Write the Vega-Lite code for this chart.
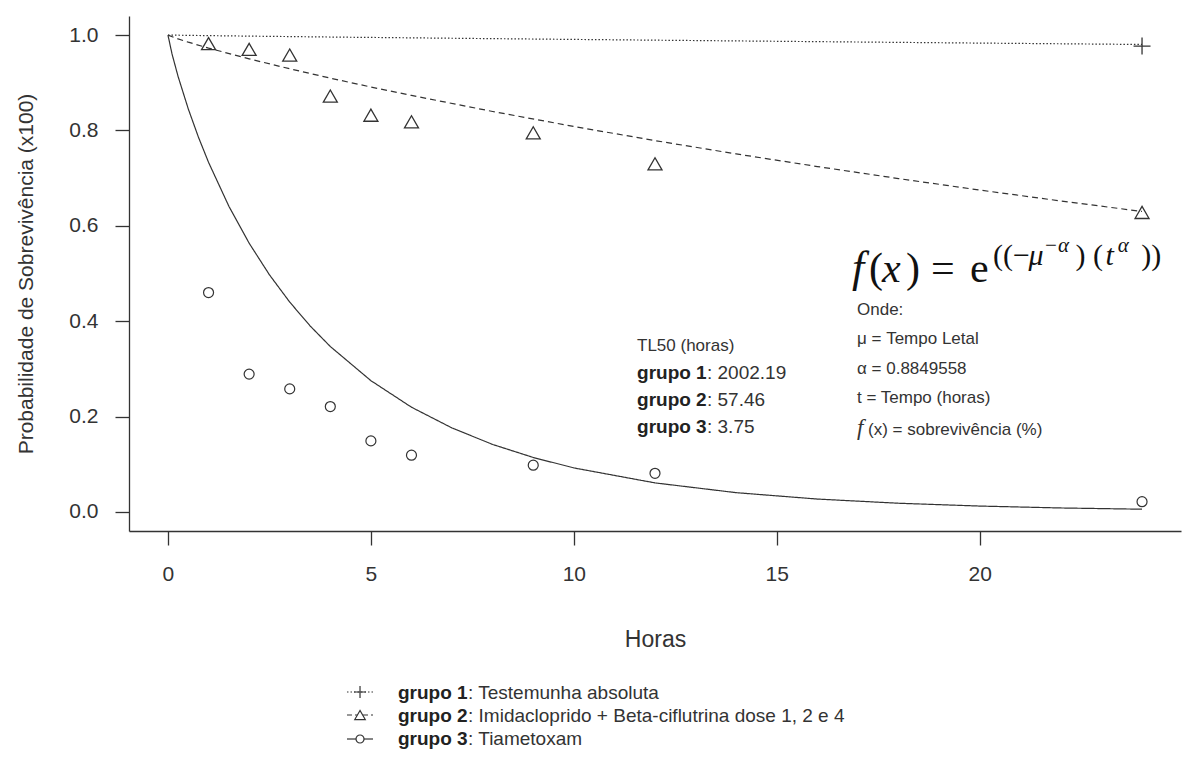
{
  "$schema": "https://vega.github.io/schema/vega-lite/v6.json",
  "width": 1052,
  "height": 515,
  "autosize": {"type": "none"},
  "padding": {"left": 129, "top": 16, "right": 3, "bottom": 233},
  "background": "white",
  "config": {
    "view": {"stroke": null},
    "font": "Liberation Sans",
    "axis": {
      "domainColor": "#333", "domainWidth": 1.3, "tickColor": "#333", "tickWidth": 1.3, "tickSize": 14,
      "labelFont": "Liberation Sans", "labelFontSize": 21, "labelColor": "#333",
      "titleFont": "Liberation Sans", "titleFontWeight": "normal", "titleColor": "#333", "grid": false
    },
    "axisX": {"labelPadding": 18, "titlePadding": 44, "titleFontSize": 23, "labelAngle": 0},
    "axisY": {"labelPadding": 17, "titlePadding": 32, "titleFontSize": 21}
  },
  "datasets": {
    "curves": [
      {"hora": 0, "prob": 1, "grupo": "grupo 1"},
      {"hora": 1, "prob": 0.9988, "grupo": "grupo 1"},
      {"hora": 2, "prob": 0.9978, "grupo": "grupo 1"},
      {"hora": 4, "prob": 0.9959, "grupo": "grupo 1"},
      {"hora": 8, "prob": 0.9925, "grupo": "grupo 1"},
      {"hora": 12, "prob": 0.9893, "grupo": "grupo 1"},
      {"hora": 16, "prob": 0.9862, "grupo": "grupo 1"},
      {"hora": 20, "prob": 0.9832, "grupo": "grupo 1"},
      {"hora": 24, "prob": 0.9803, "grupo": "grupo 1"},
      {"hora": 0, "prob": 1, "grupo": "grupo 2"},
      {"hora": 0.25, "prob": 0.9919, "grupo": "grupo 2"},
      {"hora": 0.5, "prob": 0.9851, "grupo": "grupo 2"},
      {"hora": 1, "prob": 0.9727, "grupo": "grupo 2"},
      {"hora": 2, "prob": 0.9501, "grupo": "grupo 2"},
      {"hora": 3, "prob": 0.9293, "grupo": "grupo 2"},
      {"hora": 4, "prob": 0.9097, "grupo": "grupo 2"},
      {"hora": 5, "prob": 0.8911, "grupo": "grupo 2"},
      {"hora": 6, "prob": 0.8734, "grupo": "grupo 2"},
      {"hora": 8, "prob": 0.8398, "grupo": "grupo 2"},
      {"hora": 10, "prob": 0.8083, "grupo": "grupo 2"},
      {"hora": 12, "prob": 0.7787, "grupo": "grupo 2"},
      {"hora": 14, "prob": 0.7508, "grupo": "grupo 2"},
      {"hora": 16, "prob": 0.7243, "grupo": "grupo 2"},
      {"hora": 18, "prob": 0.6991, "grupo": "grupo 2"},
      {"hora": 20, "prob": 0.675, "grupo": "grupo 2"},
      {"hora": 22, "prob": 0.6521, "grupo": "grupo 2"},
      {"hora": 24, "prob": 0.6301, "grupo": "grupo 2"},
      {"hora": 0, "prob": 1, "grupo": "grupo 3"},
      {"hora": 0.1, "prob": 0.9604, "grupo": "grupo 3"},
      {"hora": 0.25, "prob": 0.913, "grupo": "grupo 3"},
      {"hora": 0.5, "prob": 0.8453, "grupo": "grupo 3"},
      {"hora": 0.75, "prob": 0.7861, "grupo": "grupo 3"},
      {"hora": 1, "prob": 0.7331, "grupo": "grupo 3"},
      {"hora": 1.5, "prob": 0.6412, "grupo": "grupo 3"},
      {"hora": 2, "prob": 0.5636, "grupo": "grupo 3"},
      {"hora": 2.5, "prob": 0.4973, "grupo": "grupo 3"},
      {"hora": 3, "prob": 0.4401, "grupo": "grupo 3"},
      {"hora": 3.5, "prob": 0.3903, "grupo": "grupo 3"},
      {"hora": 4, "prob": 0.3469, "grupo": "grupo 3"},
      {"hora": 5, "prob": 0.2753, "grupo": "grupo 3"},
      {"hora": 6, "prob": 0.2196, "grupo": "grupo 3"},
      {"hora": 7, "prob": 0.176, "grupo": "grupo 3"},
      {"hora": 8, "prob": 0.1415, "grupo": "grupo 3"},
      {"hora": 9, "prob": 0.1142, "grupo": "grupo 3"},
      {"hora": 10, "prob": 0.0923, "grupo": "grupo 3"},
      {"hora": 12, "prob": 0.0609, "grupo": "grupo 3"},
      {"hora": 14, "prob": 0.0404, "grupo": "grupo 3"},
      {"hora": 16, "prob": 0.027, "grupo": "grupo 3"},
      {"hora": 18, "prob": 0.0182, "grupo": "grupo 3"},
      {"hora": 20, "prob": 0.0123, "grupo": "grupo 3"},
      {"hora": 22, "prob": 0.0083, "grupo": "grupo 3"},
      {"hora": 24, "prob": 0.0057, "grupo": "grupo 3"}
    ],
    "obs": [
      {"hora": 24, "prob": 0.977, "grupo": "grupo 1"},
      {"hora": 1, "prob": 0.982, "grupo": "grupo 2"},
      {"hora": 2, "prob": 0.97, "grupo": "grupo 2"},
      {"hora": 3, "prob": 0.958, "grupo": "grupo 2"},
      {"hora": 4, "prob": 0.872, "grupo": "grupo 2"},
      {"hora": 5, "prob": 0.832, "grupo": "grupo 2"},
      {"hora": 6, "prob": 0.818, "grupo": "grupo 2"},
      {"hora": 9, "prob": 0.795, "grupo": "grupo 2"},
      {"hora": 12, "prob": 0.73, "grupo": "grupo 2"},
      {"hora": 24, "prob": 0.628, "grupo": "grupo 2"},
      {"hora": 1, "prob": 0.46, "grupo": "grupo 3"},
      {"hora": 2, "prob": 0.289, "grupo": "grupo 3"},
      {"hora": 3, "prob": 0.258, "grupo": "grupo 3"},
      {"hora": 4, "prob": 0.221, "grupo": "grupo 3"},
      {"hora": 5, "prob": 0.149, "grupo": "grupo 3"},
      {"hora": 6, "prob": 0.119, "grupo": "grupo 3"},
      {"hora": 9, "prob": 0.098, "grupo": "grupo 3"},
      {"hora": 12, "prob": 0.081, "grupo": "grupo 3"},
      {"hora": 24, "prob": 0.0215, "grupo": "grupo 3"}
    ]
  },
  "layer": [
    {
      "data": {"name": "curves"},
      "mark": {"type": "line", "stroke": "#333", "strokeWidth": 1.2},
      "encoding": {
        "x": {"field": "hora", "type": "quantitative", "scale": {"domain": [-0.96, 24.96], "nice": false, "zero": false},
              "axis": {"values": [0, 5, 10, 15, 20], "format": "d", "title": "Horas"}},
        "y": {"field": "prob", "type": "quantitative", "scale": {"domain": [-0.04, 1.04], "nice": false, "zero": false},
              "axis": {"values": [0, 0.2, 0.4, 0.6, 0.8, 1], "format": ".1f", "title": "Probabilidade de Sobrevivência (x100)"}},
        "detail": {"field": "grupo", "type": "nominal"},
        "strokeDash": {"field": "grupo", "type": "nominal", "scale": {"domain": ["grupo 1", "grupo 2", "grupo 3"], "range": [[1.5, 2], [6, 4], [1, 0]]}, "legend": null}
      }
    },
    {
      "data": {"name": "obs"},
      "transform": [{"filter": "datum.grupo === 'grupo 1'"}],
      "mark": {"type": "point", "shape": "M-1,0H1M0,-1V1", "size": 289, "filled": false, "stroke": "#333", "strokeWidth": 1.3, "opacity": 1},
      "encoding": {"x": {"field": "hora", "type": "quantitative"}, "y": {"field": "prob", "type": "quantitative"}}
    },
    {
      "data": {"name": "obs"},
      "transform": [{"filter": "datum.grupo === 'grupo 2'"}],
      "mark": {"type": "point", "shape": "triangle-up", "size": 196, "filled": false, "stroke": "#333", "strokeWidth": 1.3, "opacity": 1},
      "encoding": {"x": {"field": "hora", "type": "quantitative"}, "y": {"field": "prob", "type": "quantitative"}}
    },
    {
      "data": {"name": "obs"},
      "transform": [{"filter": "datum.grupo === 'grupo 3'"}],
      "mark": {"type": "point", "shape": "circle", "size": 100, "filled": false, "stroke": "#333", "strokeWidth": 1.2, "opacity": 1},
      "encoding": {"x": {"field": "hora", "type": "quantitative"}, "y": {"field": "prob", "type": "quantitative"}}
    },

    {"data": {"values": [{}]}, "mark": {"type": "text", "text": "f", "font": "Liberation Serif", "fontStyle": "italic", "fontSize": 44, "align": "left", "baseline": "alphabetic", "color": "#111"}, "encoding": {"x": {"datum": 16.854}, "y": {"datum": 0.482}}},
    {"data": {"values": [{}]}, "mark": {"type": "text", "text": "(", "font": "Liberation Serif", "fontSize": 42, "align": "left", "baseline": "alphabetic", "color": "#111"}, "encoding": {"x": {"datum": 17.273}, "y": {"datum": 0.482}}},
    {"data": {"values": [{}]}, "mark": {"type": "text", "text": "x", "font": "Liberation Serif", "fontStyle": "italic", "fontSize": 42, "align": "left", "baseline": "alphabetic", "color": "#111"}, "encoding": {"x": {"datum": 17.593}, "y": {"datum": 0.482}}},
    {"data": {"values": [{}]}, "mark": {"type": "text", "text": ")", "font": "Liberation Serif", "fontSize": 42, "align": "left", "baseline": "alphabetic", "color": "#111"}, "encoding": {"x": {"datum": 18.185}, "y": {"datum": 0.482}}},
    {"data": {"values": [{}]}, "mark": {"type": "text", "text": "=", "font": "Liberation Serif", "fontSize": 42, "align": "left", "baseline": "alphabetic", "color": "#111"}, "encoding": {"x": {"datum": 18.801}, "y": {"datum": 0.482}}},
    {"data": {"values": [{}]}, "mark": {"type": "text", "text": "e", "font": "Liberation Serif", "fontSize": 42, "align": "left", "baseline": "alphabetic", "color": "#111"}, "encoding": {"x": {"datum": 19.76}, "y": {"datum": 0.482}}},
    {"data": {"values": [{}]}, "mark": {"type": "text", "text": "((−", "font": "Liberation Serif", "fontSize": 30, "align": "left", "baseline": "alphabetic", "color": "#111"}, "encoding": {"x": {"datum": 20.33}, "y": {"datum": 0.518}}},
    {"data": {"values": [{}]}, "mark": {"type": "text", "text": "μ", "font": "Liberation Serif", "fontStyle": "italic", "fontSize": 30, "align": "left", "baseline": "alphabetic", "color": "#111"}, "encoding": {"x": {"datum": 21.2}, "y": {"datum": 0.518}}},
    {"data": {"values": [{}]}, "mark": {"type": "text", "text": "−α", "font": "Liberation Serif", "fontStyle": "italic", "fontSize": 21, "align": "left", "baseline": "alphabetic", "color": "#111"}, "encoding": {"x": {"datum": 21.58}, "y": {"datum": 0.545}}},
    {"data": {"values": [{}]}, "mark": {"type": "text", "text": ") (", "font": "Liberation Serif", "fontSize": 30, "align": "left", "baseline": "alphabetic", "color": "#111"}, "encoding": {"x": {"datum": 22.36}, "y": {"datum": 0.518}}},
    {"data": {"values": [{}]}, "mark": {"type": "text", "text": "t", "font": "Liberation Serif", "fontStyle": "italic", "fontSize": 30, "align": "left", "baseline": "alphabetic", "color": "#111"}, "encoding": {"x": {"datum": 23.1}, "y": {"datum": 0.518}}},
    {"data": {"values": [{}]}, "mark": {"type": "text", "text": "α", "font": "Liberation Serif", "fontStyle": "italic", "fontSize": 21, "align": "left", "baseline": "alphabetic", "color": "#111"}, "encoding": {"x": {"datum": 23.4}, "y": {"datum": 0.545}}},
    {"data": {"values": [{}]}, "mark": {"type": "text", "text": "))", "font": "Liberation Serif", "fontSize": 30, "align": "left", "baseline": "alphabetic", "color": "#111"}, "encoding": {"x": {"datum": 23.98}, "y": {"datum": 0.518}}},

    {"data": {"values": [{}]}, "mark": {"type": "text", "text": "Onde:", "fontSize": 17, "align": "left", "baseline": "alphabetic", "color": "#333"}, "encoding": {"x": {"datum": 16.977}, "y": {"datum": 0.413}}},
    {"data": {"values": [{}]}, "mark": {"type": "text", "text": "μ = Tempo Letal", "fontSize": 17, "align": "left", "baseline": "alphabetic", "color": "#333"}, "encoding": {"x": {"datum": 16.977}, "y": {"datum": 0.352}}},
    {"data": {"values": [{}]}, "mark": {"type": "text", "text": "α = 0.8849558", "fontSize": 17, "align": "left", "baseline": "alphabetic", "color": "#333"}, "encoding": {"x": {"datum": 16.977}, "y": {"datum": 0.289}}},
    {"data": {"values": [{}]}, "mark": {"type": "text", "text": "t = Tempo (horas)", "fontSize": 17, "align": "left", "baseline": "alphabetic", "color": "#333"}, "encoding": {"x": {"datum": 16.977}, "y": {"datum": 0.228}}},
    {"data": {"values": [{}]}, "mark": {"type": "text", "text": "f", "font": "Liberation Serif", "fontStyle": "italic", "fontSize": 23, "align": "left", "baseline": "alphabetic", "color": "#333"}, "encoding": {"x": {"datum": 16.977}, "y": {"datum": 0.161}}},
    {"data": {"values": [{}]}, "mark": {"type": "text", "text": "(x) = sobrevivência (%)", "fontSize": 17, "align": "left", "baseline": "alphabetic", "color": "#333"}, "encoding": {"x": {"datum": 17.25}, "y": {"datum": 0.161}}},

    {"data": {"values": [{}]}, "mark": {"type": "text", "text": "TL50 (horas)", "fontSize": 17, "align": "left", "baseline": "alphabetic", "color": "#333"}, "encoding": {"x": {"datum": 11.557}, "y": {"datum": 0.3375}}},
    {"data": {"values": [{}]}, "mark": {"type": "text", "text": "grupo 1", "fontSize": 19, "fontWeight": "bold", "align": "left", "baseline": "alphabetic", "color": "#222"}, "encoding": {"x": {"datum": 11.557}, "y": {"datum": 0.2788}}},
    {"data": {"values": [{}]}, "mark": {"type": "text", "text": ": 2002.19", "fontSize": 19, "align": "left", "baseline": "alphabetic", "color": "#333"}, "encoding": {"x": {"datum": 13.281}, "y": {"datum": 0.2788}}},
    {"data": {"values": [{}]}, "mark": {"type": "text", "text": "grupo 2", "fontSize": 19, "fontWeight": "bold", "align": "left", "baseline": "alphabetic", "color": "#222"}, "encoding": {"x": {"datum": 11.557}, "y": {"datum": 0.2221}}},
    {"data": {"values": [{}]}, "mark": {"type": "text", "text": ": 57.46", "fontSize": 19, "align": "left", "baseline": "alphabetic", "color": "#333"}, "encoding": {"x": {"datum": 13.281}, "y": {"datum": 0.2221}}},
    {"data": {"values": [{}]}, "mark": {"type": "text", "text": "grupo 3", "fontSize": 19, "fontWeight": "bold", "align": "left", "baseline": "alphabetic", "color": "#222"}, "encoding": {"x": {"datum": 11.557}, "y": {"datum": 0.1655}}},
    {"data": {"values": [{}]}, "mark": {"type": "text", "text": ": 3.75", "fontSize": 19, "align": "left", "baseline": "alphabetic", "color": "#333"}, "encoding": {"x": {"datum": 13.281}, "y": {"datum": 0.1655}}},

    {"data": {"values": [{}]}, "mark": {"type": "rule", "stroke": "#333", "strokeWidth": 1.2, "strokeDash": [1.5, 2]}, "encoding": {"x": {"datum": 4.411}, "x2": {"datum": 5.052}, "y": {"datum": -0.3776}}},
    {"data": {"values": [{}]}, "mark": {"type": "rule", "stroke": "#333", "strokeWidth": 1.2, "strokeDash": [5, 3]}, "encoding": {"x": {"datum": 4.411}, "x2": {"datum": 5.052}, "y": {"datum": -0.4259}}},
    {"data": {"values": [{}]}, "mark": {"type": "rule", "stroke": "#333", "strokeWidth": 1.2}, "encoding": {"x": {"datum": 4.411}, "x2": {"datum": 5.052}, "y": {"datum": -0.4762}}},
    {"data": {"values": [{}]}, "mark": {"type": "point", "shape": "M-1,0H1M0,-1V1", "size": 144, "filled": false, "stroke": "#333", "strokeWidth": 1.2, "opacity": 1}, "encoding": {"x": {"datum": 4.732}, "y": {"datum": -0.3776}}},
    {"data": {"values": [{}]}, "mark": {"type": "point", "shape": "triangle-up", "size": 110, "filled": true, "fill": "white", "stroke": "#333", "strokeWidth": 1.2, "opacity": 1}, "encoding": {"x": {"datum": 4.732}, "y": {"datum": -0.4259}}},
    {"data": {"values": [{}]}, "mark": {"type": "point", "shape": "circle", "size": 64, "filled": true, "fill": "white", "stroke": "#333", "strokeWidth": 1.2, "opacity": 1}, "encoding": {"x": {"datum": 4.732}, "y": {"datum": -0.4762}}},
    {"data": {"values": [{}]}, "mark": {"type": "text", "text": "grupo 1", "fontSize": 19, "fontWeight": "bold", "align": "left", "baseline": "alphabetic", "color": "#222"}, "encoding": {"x": {"datum": 5.668}, "y": {"datum": -0.3913}}},
    {"data": {"values": [{}]}, "mark": {"type": "text", "text": ": Testemunha absoluta", "fontSize": 19, "align": "left", "baseline": "alphabetic", "color": "#333"}, "encoding": {"x": {"datum": 7.393}, "y": {"datum": -0.3913}}},
    {"data": {"values": [{}]}, "mark": {"type": "text", "text": "grupo 2", "fontSize": 19, "fontWeight": "bold", "align": "left", "baseline": "alphabetic", "color": "#222"}, "encoding": {"x": {"datum": 5.668}, "y": {"datum": -0.4395}}},
    {"data": {"values": [{}]}, "mark": {"type": "text", "text": ":  Imidacloprido + Beta-ciflutrina dose 1, 2 e 4", "fontSize": 19, "align": "left", "baseline": "alphabetic", "color": "#333"}, "encoding": {"x": {"datum": 7.393}, "y": {"datum": -0.4395}}},
    {"data": {"values": [{}]}, "mark": {"type": "text", "text": "grupo 3", "fontSize": 19, "fontWeight": "bold", "align": "left", "baseline": "alphabetic", "color": "#222"}, "encoding": {"x": {"datum": 5.668}, "y": {"datum": -0.4898}}},
    {"data": {"values": [{}]}, "mark": {"type": "text", "text": ": Tiametoxam", "fontSize": 19, "align": "left", "baseline": "alphabetic", "color": "#333"}, "encoding": {"x": {"datum": 7.393}, "y": {"datum": -0.4898}}}
  ]
}
